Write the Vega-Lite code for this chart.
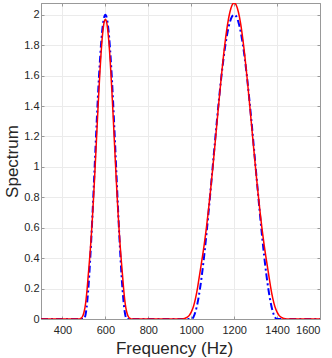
{
  "$schema": "https://vega.github.io/schema/vega-lite/v6.json",
  "autosize": {"type": "none"},
  "padding": {"left": 41, "top": 3, "right": 12, "bottom": 39},
  "width": 279,
  "height": 316,
  "background": "white",
  "config": {
    "view": {"stroke": "#999999", "strokeWidth": 1},
    "font": "Liberation Sans",
    "axis": {
      "labelFont": "Liberation Sans",
      "titleFont": "Liberation Sans",
      "labelFontSize": 11,
      "labelColor": "#262626",
      "titleFontSize": 17,
      "titleFontWeight": "normal",
      "titleColor": "#262626",
      "domainColor": "#999999",
      "tickColor": "#999999",
      "gridColor": "#ebebeb",
      "tickSize": -3
    }
  },
  "datasets": {
    "blue": [
      {"f": 300, "v": 0}, {"f": 500, "v": 0},
      {"f": 510, "v": 0.049}, {"f": 520, "v": 0.191}, {"f": 530, "v": 0.412}, {"f": 540, "v": 0.691}, {"f": 550, "v": 1.0},
      {"f": 560, "v": 1.309}, {"f": 570, "v": 1.588}, {"f": 580, "v": 1.809}, {"f": 590, "v": 1.951}, {"f": 600, "v": 2.0},
      {"f": 610, "v": 1.951}, {"f": 620, "v": 1.809}, {"f": 630, "v": 1.588}, {"f": 640, "v": 1.309}, {"f": 650, "v": 1.0},
      {"f": 660, "v": 0.691}, {"f": 670, "v": 0.412}, {"f": 680, "v": 0.191}, {"f": 690, "v": 0.049}, {"f": 700, "v": 0},
      {"f": 1000, "v": 0},
      {"f": 1010, "v": 0.012}, {"f": 1020, "v": 0.049}, {"f": 1030, "v": 0.109}, {"f": 1040, "v": 0.191}, {"f": 1050, "v": 0.293},
      {"f": 1060, "v": 0.412}, {"f": 1070, "v": 0.546}, {"f": 1080, "v": 0.691}, {"f": 1090, "v": 0.844}, {"f": 1100, "v": 1.0},
      {"f": 1110, "v": 1.156}, {"f": 1120, "v": 1.309}, {"f": 1130, "v": 1.454}, {"f": 1140, "v": 1.588}, {"f": 1150, "v": 1.707},
      {"f": 1160, "v": 1.809}, {"f": 1170, "v": 1.891}, {"f": 1180, "v": 1.951}, {"f": 1190, "v": 1.988}, {"f": 1200, "v": 2.0},
      {"f": 1210, "v": 1.988}, {"f": 1220, "v": 1.951}, {"f": 1230, "v": 1.891}, {"f": 1240, "v": 1.809}, {"f": 1250, "v": 1.707},
      {"f": 1260, "v": 1.588}, {"f": 1270, "v": 1.454}, {"f": 1280, "v": 1.309}, {"f": 1290, "v": 1.156}, {"f": 1300, "v": 1.0},
      {"f": 1310, "v": 0.844}, {"f": 1320, "v": 0.691}, {"f": 1330, "v": 0.546}, {"f": 1340, "v": 0.412}, {"f": 1350, "v": 0.293},
      {"f": 1360, "v": 0.191}, {"f": 1370, "v": 0.109}, {"f": 1380, "v": 0.049}, {"f": 1390, "v": 0.012}, {"f": 1400, "v": 0},
      {"f": 1600, "v": 0}
    ],
    "red": [
      {"f": 300, "v": 0}, {"f": 480, "v": 0},
      {"f": 485, "v": 0.004}, {"f": 490, "v": 0.009}, {"f": 495, "v": 0.021}, {"f": 500, "v": 0.043}, {"f": 505, "v": 0.076},
      {"f": 510, "v": 0.128}, {"f": 515, "v": 0.199}, {"f": 520, "v": 0.285}, {"f": 525, "v": 0.370}, {"f": 530, "v": 0.459},
      {"f": 535, "v": 0.561}, {"f": 540, "v": 0.675}, {"f": 545, "v": 0.801}, {"f": 550, "v": 0.936}, {"f": 555, "v": 1.078},
      {"f": 560, "v": 1.224}, {"f": 565, "v": 1.369}, {"f": 570, "v": 1.507}, {"f": 575, "v": 1.636}, {"f": 580, "v": 1.749},
      {"f": 585, "v": 1.843}, {"f": 590, "v": 1.912}, {"f": 595, "v": 1.956}, {"f": 600, "v": 1.970},
      {"f": 605, "v": 1.956}, {"f": 610, "v": 1.912}, {"f": 615, "v": 1.843}, {"f": 620, "v": 1.749}, {"f": 625, "v": 1.636},
      {"f": 630, "v": 1.507}, {"f": 635, "v": 1.369}, {"f": 640, "v": 1.224}, {"f": 645, "v": 1.078}, {"f": 650, "v": 0.936},
      {"f": 655, "v": 0.801}, {"f": 660, "v": 0.675}, {"f": 665, "v": 0.561}, {"f": 670, "v": 0.459}, {"f": 675, "v": 0.370},
      {"f": 680, "v": 0.285}, {"f": 685, "v": 0.199}, {"f": 690, "v": 0.128}, {"f": 695, "v": 0.076}, {"f": 700, "v": 0.043},
      {"f": 705, "v": 0.021}, {"f": 710, "v": 0.009}, {"f": 715, "v": 0.004}, {"f": 720, "v": 0},
      {"f": 960, "v": 0},
      {"f": 970, "v": 0.004}, {"f": 980, "v": 0.010}, {"f": 990, "v": 0.022}, {"f": 1000, "v": 0.045}, {"f": 1010, "v": 0.080},
      {"f": 1020, "v": 0.135}, {"f": 1030, "v": 0.210}, {"f": 1040, "v": 0.300}, {"f": 1050, "v": 0.390}, {"f": 1060, "v": 0.484},
      {"f": 1070, "v": 0.591}, {"f": 1080, "v": 0.712}, {"f": 1090, "v": 0.845}, {"f": 1100, "v": 0.987}, {"f": 1110, "v": 1.137},
      {"f": 1120, "v": 1.290}, {"f": 1130, "v": 1.443}, {"f": 1140, "v": 1.589}, {"f": 1150, "v": 1.725}, {"f": 1160, "v": 1.844},
      {"f": 1170, "v": 1.943}, {"f": 1180, "v": 2.016}, {"f": 1190, "v": 2.062}, {"f": 1200, "v": 2.077},
      {"f": 1210, "v": 2.062}, {"f": 1220, "v": 2.016}, {"f": 1230, "v": 1.943}, {"f": 1240, "v": 1.844}, {"f": 1250, "v": 1.725},
      {"f": 1260, "v": 1.589}, {"f": 1270, "v": 1.443}, {"f": 1280, "v": 1.290}, {"f": 1290, "v": 1.137}, {"f": 1300, "v": 0.987},
      {"f": 1310, "v": 0.845}, {"f": 1320, "v": 0.712}, {"f": 1330, "v": 0.591}, {"f": 1340, "v": 0.484}, {"f": 1350, "v": 0.390},
      {"f": 1360, "v": 0.300}, {"f": 1370, "v": 0.210}, {"f": 1380, "v": 0.135}, {"f": 1390, "v": 0.080}, {"f": 1400, "v": 0.045},
      {"f": 1410, "v": 0.022}, {"f": 1420, "v": 0.010}, {"f": 1430, "v": 0.004}, {"f": 1440, "v": 0},
      {"f": 1600, "v": 0}
    ]
  },
  "resolve": {"axis": {"x": "independent", "y": "independent"}},
  "layer": [
    {
      "data": {"name": "blue"},
      "mark": {"type": "line", "color": "#0000ff", "strokeWidth": 2, "strokeDash": [7, 3, 2, 3], "interpolate": "monotone", "clip": true},
      "encoding": {
        "x": {"field": "f", "type": "quantitative",
              "scale": {"domain": [300, 1600], "nice": false, "zero": false},
              "axis": {"orient": "bottom", "title": "Frequency (Hz)", "values": [400, 600, 800, 1000, 1200, 1400, 1600],
                       "format": "d", "grid": true, "labelPadding": 8, "titleY": 34, "titleX": 133, "titleBaseline": "alphabetic"}},
        "y": {"field": "v", "type": "quantitative",
              "scale": {"domain": [0, 2.077], "nice": false},
              "axis": {"orient": "left", "title": "Spectrum", "values": [0, 0.2, 0.4, 0.6, 0.8, 1, 1.2, 1.4, 1.6, 1.8, 2],
                       "format": "~g", "grid": true, "labelPadding": 5, "titleX": -24, "titleY": 158, "titleBaseline": "alphabetic", "titleAngle": -90}}
      }
    },
    {
      "data": {"name": "red"},
      "mark": {"type": "line", "color": "#ff0000", "strokeWidth": 1.5, "interpolate": "monotone", "clip": true},
      "encoding": {
        "x": {"field": "f", "type": "quantitative",
              "axis": {"orient": "top", "title": null, "labels": false, "grid": false, "values": [400, 600, 800, 1000, 1200, 1400, 1600]}},
        "y": {"field": "v", "type": "quantitative",
              "axis": {"orient": "right", "title": null, "labels": false, "grid": false, "values": [0, 0.2, 0.4, 0.6, 0.8, 1, 1.2, 1.4, 1.6, 1.8, 2]}}
      }
    }
  ]
}
